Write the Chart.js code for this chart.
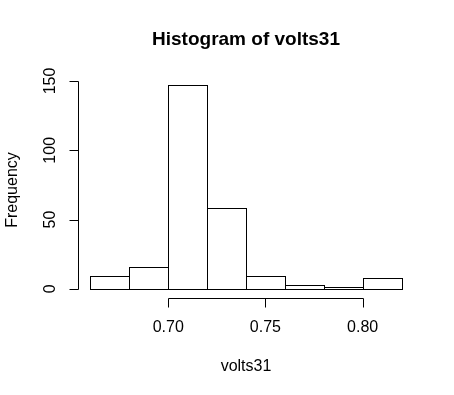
<!DOCTYPE html>
<html>
<head>
<meta charset="utf-8">
<script src="https://cdn.jsdelivr.net/npm/chart.js@4.4.0/dist/chart.umd.min.js"></script>
<style>
  html, body { margin: 0; padding: 0; background: #fff; }
  canvas { display: block; }
</style>
</head>
<body>
<canvas id="hist" width="454" height="395"></canvas>
<script>
// histogram bins (mid points) and counts
const binMids = [0.67, 0.69, 0.71, 0.73, 0.75, 0.77, 0.79, 0.81];
const counts = [9, 16, 147, 58, 9, 3, 1, 8];
const xTicks = [0.70, 0.75, 0.80];
const yTicks = [0, 50, 100, 150];
const chartTitle = 'Histogram of volts31';
const xLabel = 'volts31';
const yLabel = 'Frequency';

const FONT = '"Liberation Sans", Arial, sans-serif';

// R style axes: lines only span the tick range, labels drawn by hand
const rAxes = {
    id: 'rAxes',
    afterDatasetsDraw(chart) {
        const ctx = chart.ctx;
        const area = chart.chartArea;
        const xs = chart.scales.x;
        const ys = chart.scales.y;
        ctx.save();
        ctx.strokeStyle = '#000';
        ctx.lineWidth = 1;

        // bar outlines (1px, shared edges)
        const meta = chart.getDatasetMeta(0);
        meta.data.forEach(bar => {
            const left = Math.round(bar.x - bar.width / 2) + 0.5;
            const right = Math.round(bar.x + bar.width / 2) + 0.5;
            const top = Math.round(bar.y) + 0.5;
            const base = Math.round(bar.base) + 0.5;
            ctx.strokeRect(left, top, right - left, base - top);
        });

        // x axis
        const ay = Math.round(area.bottom) + 1.5;
        const x0 = Math.round(xs.getPixelForValue(xTicks[0])) + 0.5;
        const x1 = Math.round(xs.getPixelForValue(xTicks[xTicks.length - 1])) + 0.5;
        ctx.beginPath();
        ctx.moveTo(x0, ay);
        ctx.lineTo(x1, ay);
        xTicks.forEach(v => {
            const px = Math.round(xs.getPixelForValue(v)) + 0.5;
            ctx.moveTo(px, ay);
            ctx.lineTo(px, ay + 9);
        });
        ctx.stroke();

        ctx.fillStyle = '#000';
        ctx.font = '16px ' + FONT;
        ctx.textAlign = 'center';
        ctx.textBaseline = 'middle';
        xTicks.forEach(v => {
            ctx.fillText(v.toFixed(2), xs.getPixelForValue(v), ay + 29);
        });
        ctx.fillText(xLabel, (area.left + area.right) / 2, ay + 68);

        // y axis
        const ax = Math.round(area.left) + 0.5;
        const y0 = Math.round(ys.getPixelForValue(yTicks[0])) + 0.5;
        const y1 = Math.round(ys.getPixelForValue(yTicks[yTicks.length - 1])) + 0.5;
        ctx.beginPath();
        ctx.moveTo(ax, y0);
        ctx.lineTo(ax, y1);
        yTicks.forEach(v => {
            const py = Math.round(ys.getPixelForValue(v)) + 0.5;
            ctx.moveTo(ax, py);
            ctx.lineTo(ax - 9, py);
        });
        ctx.stroke();

        yTicks.forEach(v => {
            ctx.save();
            ctx.translate(ax - 28, ys.getPixelForValue(v));
            ctx.rotate(-Math.PI / 2);
            ctx.fillText(String(v), 0, 0);
            ctx.restore();
        });
        ctx.save();
        ctx.translate(13, (area.top + area.bottom) / 2 + 3);
        ctx.rotate(-Math.PI / 2);
        ctx.fillText(yLabel, 0, 0);
        ctx.restore();

        // title
        ctx.font = 'bold 19px ' + FONT;
        ctx.fillText(chartTitle, (area.left + area.right) / 2, 40);
        ctx.restore();
    }
};

new Chart(document.getElementById('hist'), {
    type: 'bar',
    data: {
        datasets: [{
            data: binMids.map((x, i) => ({ x: x, y: counts[i] })),
            backgroundColor: '#fff',
            borderWidth: 0,
            barPercentage: 1,
            categoryPercentage: 1
        }]
    },
    options: {
        responsive: false,
        animation: false,
        devicePixelRatio: 1,
        layout: { padding: { top: 77, right: 40, left: 0, bottom: 0 } },
        plugins: {
            legend: { display: false },
            tooltip: { enabled: false },
            title: { display: false }
        },
        scales: {
            x: {
                type: 'linear',
                min: 0.6536,
                max: 0.8264,
                offset: false,
                grid: { display: false },
                border: { display: false },
                ticks: { display: false },
                afterFit: s => { s.height = 98; }
            },
            y: {
                min: -5.88,
                max: 152.88,
                grid: { display: false },
                border: { display: false },
                ticks: { display: false },
                afterFit: s => { s.width = 78; }
            }
        }
    },
    plugins: [rAxes]
});
</script>
</body>
</html>
